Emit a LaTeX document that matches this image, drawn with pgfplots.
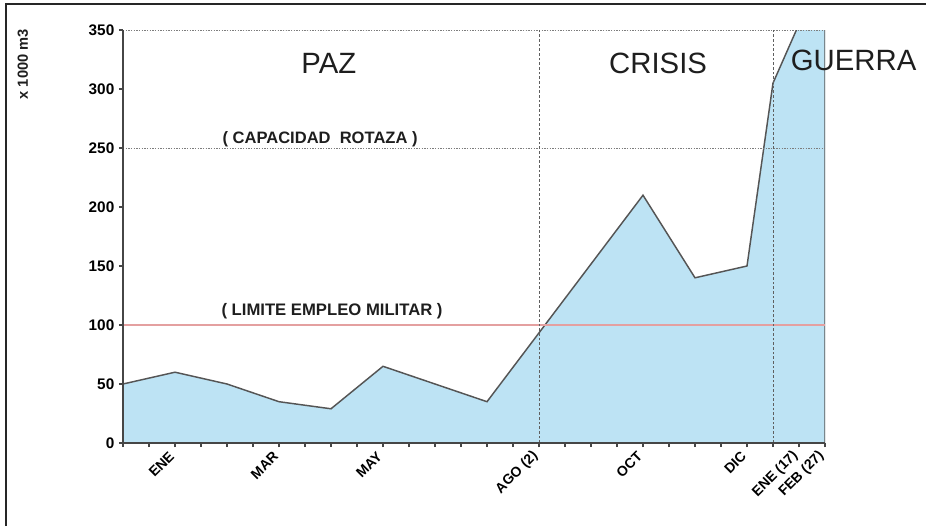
\documentclass[border=0pt]{standalone}
\usepackage{fontspec}
\setmainfont{Liberation Sans}
\usepackage{pgfplots}
\pgfplotsset{compat=1.18}
\definecolor{areablue}{RGB}{189,227,244}
\definecolor{edgegray}{RGB}{85,85,85}
\definecolor{axgray}{RGB}{70,70,70}
\definecolor{gridgray}{RGB}{125,125,125}
\definecolor{vgray}{RGB}{95,95,95}
\definecolor{limred}{RGB}{228,160,160}
\definecolor{txt}{RGB}{30,30,30}
\begin{document}
\begin{tikzpicture}
\useasboundingbox (0,0) rectangle (694.5pt,394.5pt);
\begin{axis}[
  at={(92.25pt,62.25pt)}, anchor=south west,
  scale only axis, width=526.5pt, height=309.75pt,
  xmin=0, xmax=27, ymin=0, ymax=350,
  axis x line=bottom, axis y line=left,
  axis line style={-, axgray, line width=1.1pt},
  axis on top,
  clip mode=individual,
  xtick={2,6,10,16,20,24,26,27},
  xticklabels={ENE,MAR,MAY,AGO (2),OCT,DIC,ENE (17),FEB (27)},
  minor xtick={0,...,27},
  ytick={0,50,...,350},
  tick align=outside,
  major tick length=3pt,
  minor tick length=3pt,
  tick style={axgray, line width=0.8pt},
  /pgf/number format/assume math mode=true,
  yticklabel style={font=\fontsize{11.5}{12}\selectfont\bfseries, text=black},
  xticklabel style={font=\fontsize{10.5}{11}\selectfont\bfseries, text=black, rotate=45, anchor=east, xshift=-2pt, yshift=-2pt},
]
\addplot[fill=areablue, draw=edgegray, line width=1.1pt] coordinates {
  (0,50) (2,60) (4,50) (6,35) (8,29) (10,65) (14,35) (20,210) (22,140) (24,150) (25,305) (26,355) (27,380)
} \closedcycle;
\addplot[gridgray, dash pattern=on 1pt off 1pt, line width=0.6pt] coordinates {(0,250) (27,250)};
\addplot[gridgray, dash pattern=on 1pt off 1pt, line width=0.6pt] coordinates {(0,350) (27,350)};
\addplot[limred, line width=0.8pt] coordinates {(0,100) (27,100)};
\addplot[vgray, dash pattern=on 2pt off 1.5pt, line width=0.6pt] coordinates {(16,0) (16,350)};
\addplot[vgray, dash pattern=on 2pt off 1.5pt, line width=0.6pt] coordinates {(25,0) (25,350)};
\node[font=\fontsize{22}{24}\selectfont, text=txt] at (axis cs:7.92,322) {PAZ};
\node[font=\fontsize{22}{24}\selectfont, text=txt] at (axis cs:20.58,322) {CRISIS};
\node[font=\fontsize{22}{24}\selectfont, text=txt] at (axis cs:28.1,324.6) {GUERRA};
\node[font=\fontsize{12.4}{13}\selectfont\bfseries, text=txt] at (axis cs:7.58,257.6) {( CAPACIDAD\ \ ROTAZA )};
\node[font=\fontsize{12.5}{13}\selectfont\bfseries, text=txt] at (axis cs:8.04,111.9) {( LIMITE EMPLEO MILITAR )};
\node[font=\fontsize{11}{12}\selectfont\bfseries, text=txt, rotate=90] at (axis cs:-3.85,321) {x 1000 m3};
\end{axis}
\draw[line width=1pt, black!85] (4.5pt,0) -- (4.5pt,391.5pt) -- (694.5pt,391.5pt);
\end{tikzpicture}
\end{document}
